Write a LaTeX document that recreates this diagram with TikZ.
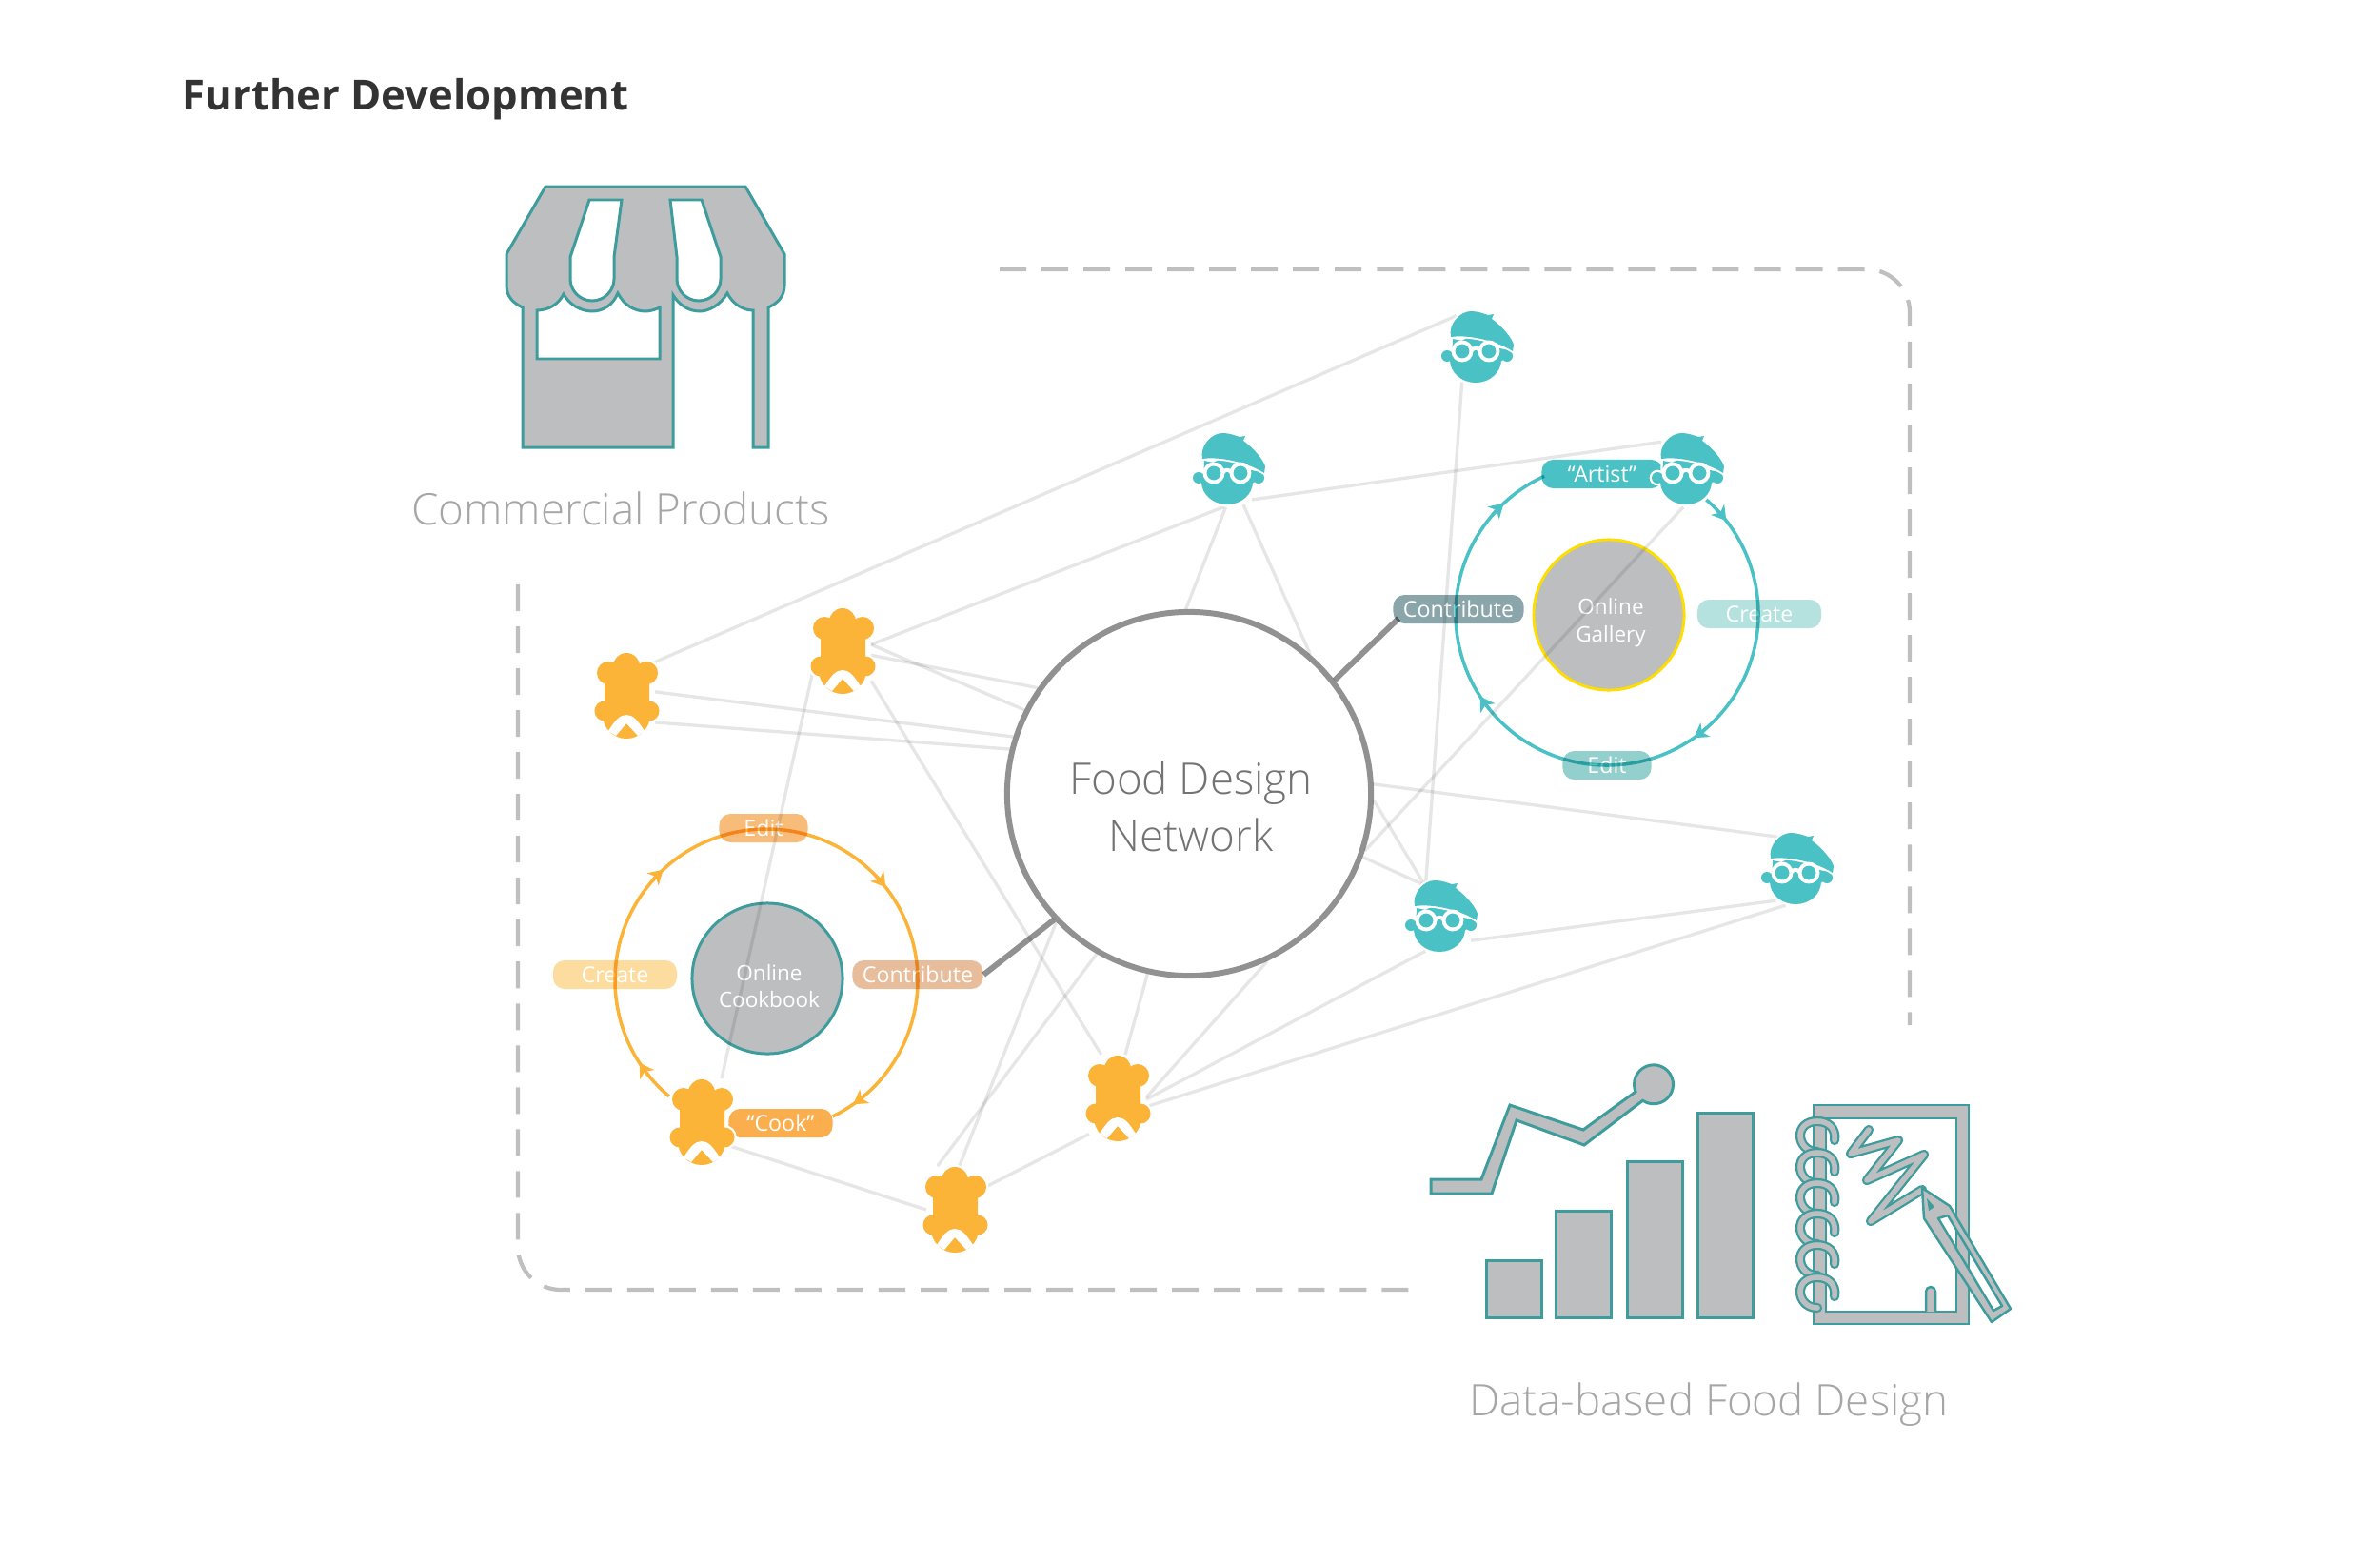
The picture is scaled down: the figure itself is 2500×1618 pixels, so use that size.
\documentclass[tikz,border=0pt]{standalone}
\usepackage{fontspec}
\setmainfont{Open Sans}[UprightFont=* Light,BoldFont=* Bold]
\newfontfamily\labelfont{Open Sans}
\usetikzlibrary{arrows.meta}
\definecolor{teal1}{HTML}{3F9C9C}
\definecolor{icongray}{HTML}{BCBEC0}
\definecolor{artistc}{HTML}{49C1C5}
\definecolor{chefc}{HTML}{FBB338}
\definecolor{linkc}{HTML}{E6E6E6}
\definecolor{editL}{HTML}{F8BC7A}
\definecolor{createL}{HTML}{FDDC9F}
\definecolor{contribL}{HTML}{E8BD9B}
\definecolor{cookL}{HTML}{FBAE4E}
\definecolor{contribT}{HTML}{8AA6AA}
\definecolor{createT}{HTML}{B5E1DF}
\definecolor{editT}{HTML}{93D0CD}
\tikzset{
  chefbox/.style={rectangle,minimum width=0.6cm,minimum height=0.9cm,inner sep=0pt,outer sep=0pt},
  headbox/.style={circle,minimum size=0.8cm,inner sep=0pt,outer sep=0pt},
  link/.style={linkc,line width=0.95pt},
  spoke/.style={draw=black!43,line width=1.7pt},
  pill/.style={rectangle,rounded corners=0.12cm,minimum height=0.3cm,inner sep=0pt,text=white,
    font=\labelfont\fontsize{6.6}{8}\selectfont},
  hub/.style={circle,minimum size=1.58cm,inner sep=0pt,fill=icongray,line width=0.85pt},
  hubtext/.style={text=white,align=center,yshift=-0.08cm,xshift=0.02cm,font=\labelfont\fontsize{6.4}{8.2}\selectfont},
  icon/.style={fill=icongray,draw=teal1,line width=0.85pt},
  dashline/.style={draw=black!25,line width=1.2pt,dash pattern=on 0.28cm off 0.16cm,rounded corners=0.45cm},
  caption/.style={text=black!35,font=\fontsize{13}{16}\selectfont},
  coil/.style={draw=teal1,double=icongray,double distance=1.6pt,line width=0.65pt,line cap=round},
  ringarrow/.style={line width=1pt,-{Stealth[length=4.2pt,width=5pt,inset=1.2pt]}},
  chef/.pic={
    \fill[chefc,preaction={draw=white,line width=1.3pt}]
      (0,30) circle (14) (-19,23) circle (12) (21,23) circle (12)
      (-23,24) rectangle (24,-18) (-23,-17) circle (10.5) (24,-17) circle (10.5) (0,-21) circle (25);
    \fill[white] (-19,-38) .. controls (-12,-27) and (-7,-21) .. (0,-21)
      .. controls (7,-21) and (12,-27) .. (19,-38) -- (12,-43) -- (0,-30) -- (-11,-43) -- cycle;
  },
  artist/.pic={
    \fill[artistc,preaction={draw=white,line width=1.3pt}]
      (-2,-13) ellipse (27 and 24) (-32,-9) circle (6) (31,-9) circle (6)
      (-26,9) -- (-27,-14) -- (26,-14) -- (33,-3) -- cycle;
    \fill[artistc,preaction={draw=white,line width=1.1pt}]
      (-28,11) .. controls (-31,25) and (-18,38) .. (-7,38)
      .. controls (0,38) and (5,36) .. (11,34) -- (17,35) -- (15,30)
      .. controls (26,22) and (36,10) .. (38,3) -- (37,-4)
      .. controls (22,6) and (-8,14) .. (-28,11) -- cycle;
    \draw[white,line width=1.1pt] (-16,-4) circle (9.5) (12,-4) circle (9.5)
      (-6,-3) .. controls (-4,0) and (0,0) .. (2,-3);
  }
}
\begin{document}
\begin{tikzpicture}[x=0.01cm,y=0.01cm]
\useasboundingbox (0,0) rectangle (2500,-1618);
% frame
\draw[dashline] (1050,-283) -- (2006,-283) -- (2006,-1077);
\draw[dashline] (544,-614) -- (544,-1355) -- (1495,-1355);
% texts
\node[anchor=west,inner sep=0pt,text=black!80,font=\fontsize{12.4}{16}\bfseries] (title) at (191,-104) {Further Development};
\node[caption] (shoplabel) at (652,-534) {Commercial Products};
\node[caption] (datalabel) at (1795,-1476) {Data-based Food Design};
% main circle
\node[circle,draw=black!43,fill=white,line width=1.7pt,minimum size=3.82cm,inner sep=0pt] (net) at (1249,-834) {};
\node[align=center,text=black!55,font=\fontsize{13}{17}\selectfont] (nettext) at (1251,-847) {Food Design\\Network};
% people
\node[chefbox] (chefA) at (658,-730) {};
\node[chefbox] (chefB) at (885,-683) {};
\node[chefbox] (cook) at (737,-1178) {};
\node[chefbox] (chefD) at (1174,-1153) {};
\node[chefbox] (chefE) at (1003,-1270) {};
\node[headbox] (headTop) at (1552,-365) {};
\node[headbox] (headLeft) at (1291,-493) {};
\node[headbox] (headArt) at (1773,-493) {};
\node[headbox] (headC) at (1514,-963) {};
\node[headbox] (headD) at (1888,-913) {};
% left loop
\node[hub,draw=teal1] (cookbook) at (806,-1028) {};
\node[hubtext] (cookbooktext) at (cookbook) {Online\\Cookbook};
\node[pill,fill=editL,minimum width=0.93cm] (editleft) at (802,-870) {Edit};
\node[pill,fill=createL,minimum width=1.3cm] (createleft) at (646,-1024) {Create};
\node[pill,fill=contribL,minimum width=1.37cm] (contribleft) at (964,-1024) {Contribute};
\node[pill,fill=cookL,minimum width=1.09cm] (cooklabel) at (820,-1180) {“Cook”\hspace{0.24cm}};
% right loop
\node[hub,draw=yellow!80!orange] (gallery) at (1690,-646) {};
\node[hubtext] (gallerytext) at (gallery) {Online\\Gallery};
\node[pill,fill=artistc,minimum width=1.27cm] (artistlabel) at (1683,-498) {“Artist”};
\node[pill,fill=contribT,minimum width=1.37cm] (contribright) at (1532,-640) {Contribute};
\node[pill,fill=createT,minimum width=1.3cm] (createright) at (1848,-645) {Create};
\node[pill,fill=editT,minimum width=0.93cm] (editright) at (1688,-804) {Edit};
\begin{scope}[blend mode=multiply]
\draw[chefc,line width=1pt] (805,-1030) ++(230:159) arc (230:-64:159);
\draw[artistc,line width=1pt] (1688,-645) ++(49:159) arc (49:-245.5:159);
\draw[spoke,shorten >=-2.5pt] (net.38.6) -- (contribright.south west);
\draw[spoke] (net.223) -- (contribleft.east);
\draw[link] (chefA.49) -- (headTop.124);
\draw[link] (chefA.6) -- (net.162.7);
\draw[link] (chefA.-44) -- (net.166.7);
\draw[link] (chefB.11) -- (headLeft.262);
\draw[link] (chefB.11) -- (net.153.4);
\draw[link] (chefB.-10) -- (net.145.8);
\draw[link] (chefB.-47) -- (chefD.111);
\draw[link] (chefB.210) -- (cook.65);
\draw[link] (cook.-41) -- (chefE.182);
\draw[link] (chefE.36) -- (chefD.232);
\draw[link] (chefE.112) -- (net.240.4);
\draw[link] (chefE.84) -- (net.224.6);
\draw[link] (chefD.80) -- (net.257.6);
\draw[link] (chefD.0) -- (net.-65);
\draw[link] (chefD.-4) -- (headC.245);
\draw[link] (chefD.-18) -- (headD.252);
\draw[link] (headLeft.265) -- (net.91);
\draw[link] (headLeft.292) -- (net.49.5);
\draw[link] (headLeft.307) -- (headArt.134);
\draw[link] (headTop.246) -- (headC.114);
\draw[link] (headArt.263) -- (net.-18);
\draw[link] (headC.121) -- (net.-20.7);
\draw[link] (headC.118) -- (net.-2.6);
\draw[link] (headC.-39) -- (headD.236);
\draw[link] (headD.122) -- (net.3.2);
\end{scope}
\foreach \a in {135,40,-53,-145} {
  \draw[chefc,ringarrow] (805,-1030) ++(\a+4:159) arc (\a+4:\a-2:159);
  \draw[artistc,ringarrow] (1688,-645) ++(\a+4:159) arc (\a+4:\a-2:159);
}
\foreach \n in {chefA,chefB,cook,chefD,chefE} \pic at (\n) {chef};
\foreach \n in {headTop,headLeft,headArt,headC,headD} \pic at (\n) {artist};
% shop
\path[icon,even odd rule] (573,-196) -- (783,-196) -- (824,-267) -- (824,-300)
  .. controls (824,-312) and (816,-319) .. (807,-323) -- (807,-470) -- (791,-470) -- (791,-326)
  .. controls (779,-326) and (769,-318) .. (764,-308) .. controls (757,-320) and (745,-327) .. (735,-327)
  .. controls (723,-327) and (713,-320) .. (707,-310) -- (707,-470) -- (549,-470) -- (549,-323)
  .. controls (540,-319) and (532,-312) .. (532,-300) -- (532,-267) -- cycle
  (564,-326) .. controls (577,-326) and (587,-319) .. (592,-309) .. controls (598,-320) and (610,-327) .. (622,-327)
  .. controls (634,-327) and (644,-320) .. (649,-308) .. controls (655,-320) and (666,-327) .. (678,-327)
  .. controls (683,-327) and (689,-325) .. (693,-323) -- (693,-377) -- (564,-377) -- cycle
  (619,-210) -- (653,-210) -- (645,-270) -- (645,-293) arc (0:-180:23) -- (599,-270) -- cycle
  (704,-210) -- (737,-210) -- (757,-270) -- (757,-293) arc (0:-180:23) -- (711,-270) -- cycle;
% chart
\foreach \xa/\ya in {1561/1324,1634/1272,1709/1220,1783/1169} {
  \path[icon] (\xa,-1384) rectangle ({\xa+58},-\ya);
}
\path[icon] (1503,-1239) -- (1556,-1239) -- (1586,-1161) -- (1663,-1187) -- (1718,-1147)
  arc (202:-124:20.5) -- (1664,-1203) -- (1593,-1177) -- (1567,-1254) -- (1503,-1254) -- cycle;
% notebook
\path[icon,line width=0.7pt,even odd rule] (1905,-1161) rectangle (2068,-1391) (1918,-1175) rectangle (2055,-1378);
\path[icon,line width=0.7pt] (2023,-1378) -- (2023,-1357) arc (180:0:5) -- (2033,-1378);
\foreach \y in {1193,1226,1258,1290,1323,1357} {
  \draw[coil] (1927,-\y-5) .. controls (1929,-\y+8) and (1920,-\y+15) .. (1909,-\y+15)
    .. controls (1897,-\y+15) and (1891,-\y+8) .. (1891,-\y)
    .. controls (1891,-\y-8) and (1897,-\y-17) .. (1909,-\y-17);
}
\draw[coil,line join=round] (1963,-1187) -- (1944,-1212) -- (1994,-1198) -- (1961,-1240) -- (2021,-1213) -- (1965,-1283) -- (2019,-1250);
\path[icon,line width=0.7pt,even odd rule,line join=round] (2019,-1248) -- (2048,-1267) -- (2112,-1375) -- (2092,-1389) -- (2021,-1280) -- cycle
  (2036,-1280) -- (2046,-1277) -- (2103,-1372) -- (2094,-1377) -- cycle;
\fill[teal1] (2024,-1259) -- (2032,-1268) -- (2026,-1272) -- cycle;
\end{tikzpicture}
\end{document}
